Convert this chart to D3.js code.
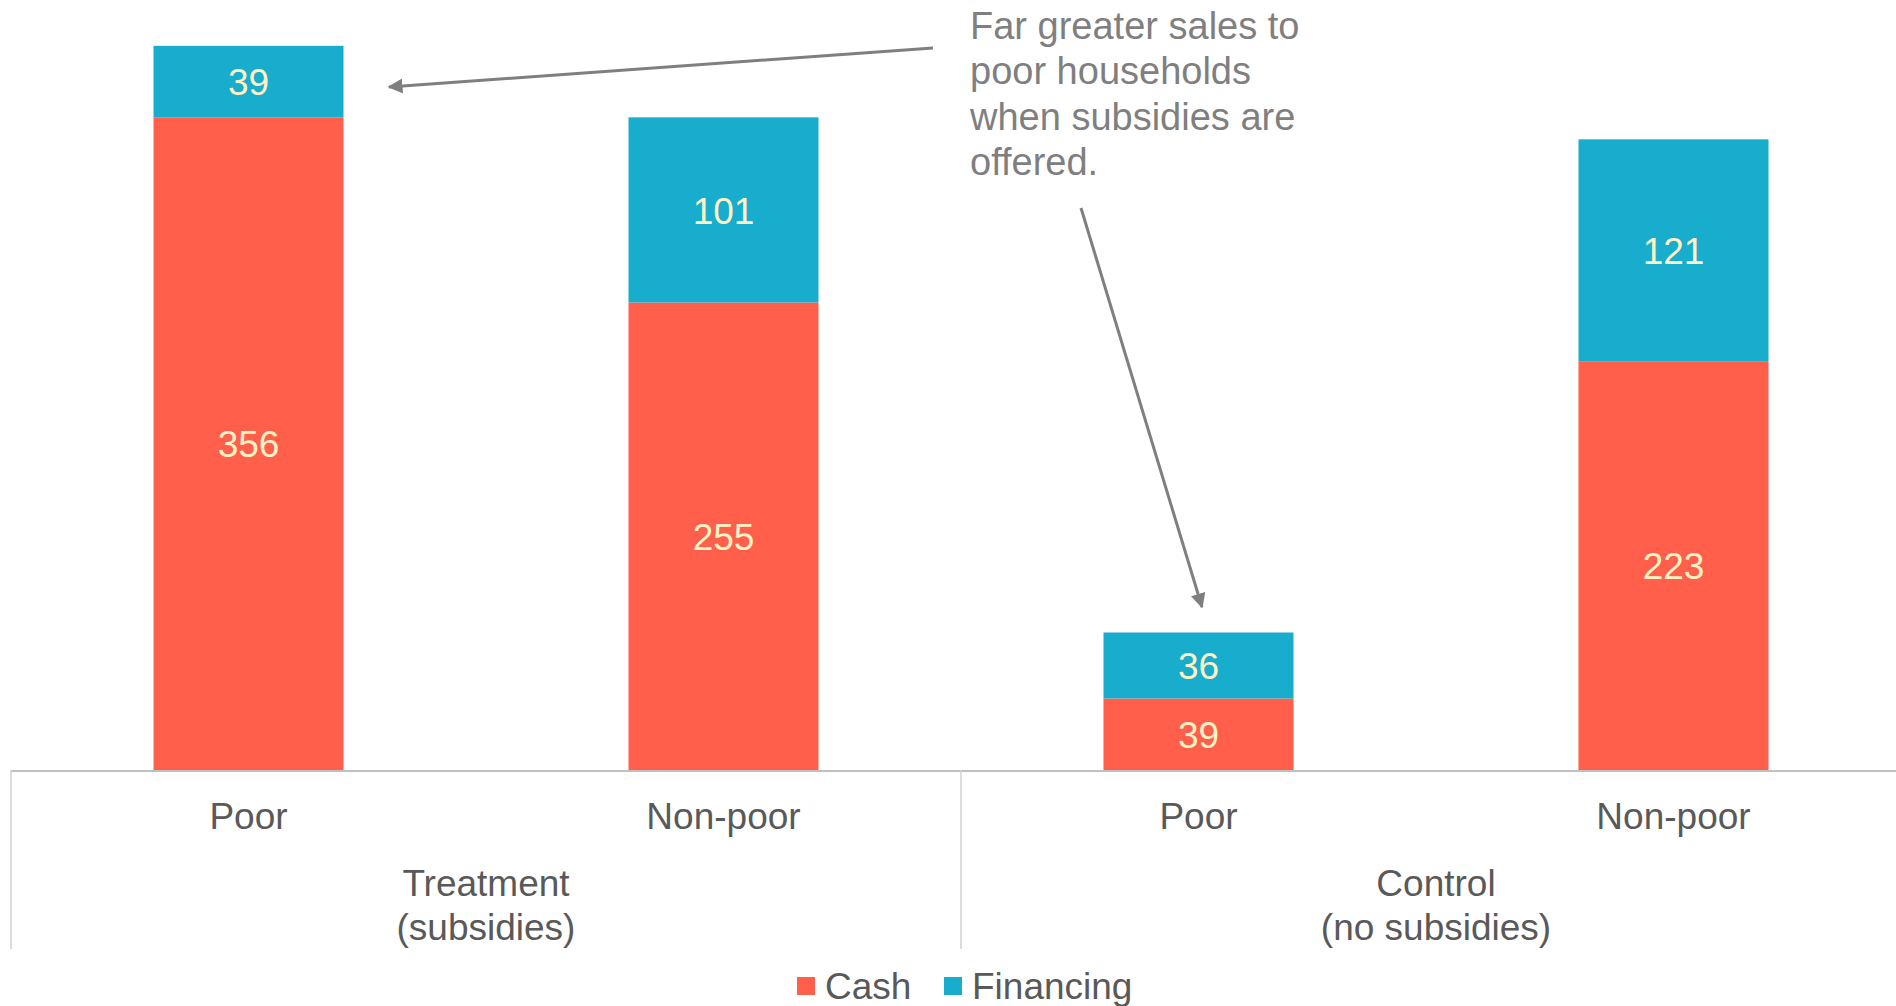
<!DOCTYPE html>
<html>
<head>
<meta charset="utf-8">
<script src="https://cdn.jsdelivr.net/npm/d3@7"></script>
<style>
  body { margin: 0; background: #fff; }
  svg { display: block; font-family: "Liberation Sans", Arial, sans-serif; }
</style>
</head>
<body>
<div id="chart"></div>
<script>
// ---- data ----
var categories = ["Poor", "Non-poor", "Poor", "Non-poor"];
var groups = [["Treatment", "(subsidies)"], ["Control", "(no subsidies)"]];
var cash = [356, 255, 39, 223];
var financing = [39, 101, 36, 121];
var seriesNames = ["Cash", "Financing"];
var noteLines = ["Far greater sales to", "poor households", "when subsidies are", "offered."];

// ---- layout ----
var width = 1896, height = 1006;
var baseY = 770, plotLeft = 11, plotRight = 1911;
var colors = ["#ff5f4b", "#18accd"];
var labelColor = "#fff3c6";
var textColor = "#595959";
var noteColor = "#7f7f7f";

var svg = d3.select("#chart").append("svg")
  .attr("width", width)
  .attr("height", height);

var x = d3.scaleBand()
  .domain(d3.range(categories.length))
  .range([plotLeft, plotRight])
  .paddingInner(0.6)
  .paddingOuter(0.3);

var y = d3.scaleLinear()
  .domain([0, 420])
  .range([baseY, 0]);

var rows = categories.map(function(c, i) {
  return {i: i, Cash: cash[i], Financing: financing[i]};
});
var stacked = d3.stack().keys(seriesNames)(rows);

// bars
var layer = svg.selectAll("g.layer")
  .data(stacked)
  .enter().append("g")
  .attr("class", "layer")
  .attr("fill", function(d, k) { return colors[k]; });

layer.selectAll("rect")
  .data(function(d) { return d; })
  .enter().append("rect")
  .attr("x", function(d) { return x(d.data.i); })
  .attr("y", function(d) { return y(d[1]); })
  .attr("width", x.bandwidth())
  .attr("height", function(d) { return y(d[0]) - y(d[1]); });

// value labels
layer.selectAll("text")
  .data(function(d) { return d; })
  .enter().append("text")
  .attr("x", function(d) { return x(d.data.i) + x.bandwidth() / 2; })
  .attr("y", function(d) { return (y(d[0]) + y(d[1])) / 2; })
  .attr("dy", "0.37em")
  .attr("text-anchor", "middle")
  .attr("font-size", "37px")
  .attr("fill", labelColor)
  .text(function(d) { return d[1] - d[0]; });

// axis line + group separators
svg.append("line")
  .attr("x1", plotLeft).attr("x2", width)
  .attr("y1", baseY + 1).attr("y2", baseY + 1)
  .attr("stroke", "#bfbfbf").attr("stroke-width", 2);

var step = x.step();
[0, 2].forEach(function(k) {
  var sx = x(k) - x.paddingOuter() * step;
  svg.append("line")
    .attr("x1", sx).attr("x2", sx)
    .attr("y1", baseY).attr("y2", 949)
    .attr("stroke", "#d0d0d0").attr("stroke-width", 1.5);
});

// category labels
svg.selectAll("text.cat")
  .data(categories)
  .enter().append("text")
  .attr("class", "cat")
  .attr("x", function(d, i) { return x(i) + x.bandwidth() / 2; })
  .attr("y", 829)
  .attr("text-anchor", "middle")
  .attr("font-size", "37px")
  .attr("fill", textColor)
  .text(function(d) { return d; });

// group labels
groups.forEach(function(g, k) {
  var cx = (x(2 * k) + x(2 * k + 1) + x.bandwidth()) / 2;
  g.forEach(function(line, j) {
    svg.append("text")
      .attr("x", cx)
      .attr("y", 896 + j * 44)
      .attr("text-anchor", "middle")
      .attr("font-size", "37px")
      .attr("fill", textColor)
      .text(line);
  });
});

// legend
var legend = svg.append("g").attr("transform", "translate(797,0)");
var legX = [0, 147];
seriesNames.forEach(function(name, k) {
  legend.append("rect")
    .attr("x", legX[k]).attr("y", 977)
    .attr("width", 18).attr("height", 18)
    .attr("fill", colors[k]);
  legend.append("text")
    .attr("x", legX[k] + 28).attr("y", 999)
    .attr("font-size", "37px")
    .attr("fill", textColor)
    .text(name);
});

// annotation
svg.append("defs").append("marker")
  .attr("id", "arrow")
  .attr("viewBox", "0 0 10 10")
  .attr("refX", 9).attr("refY", 5)
  .attr("markerWidth", 5).attr("markerHeight", 5)
  .attr("orient", "auto")
  .append("path")
  .attr("d", "M0,0 L10,5 L0,10 z")
  .attr("fill", noteColor);

var arrows = [
  [[933, 48], [389, 87]],
  [[1081, 208], [1202, 607]]
];
arrows.forEach(function(a) {
  svg.append("line")
    .attr("x1", a[0][0]).attr("y1", a[0][1])
    .attr("x2", a[1][0]).attr("y2", a[1][1])
    .attr("stroke", noteColor)
    .attr("stroke-width", 3)
    .attr("marker-end", "url(#arrow)");
});

svg.selectAll("text.note")
  .data(noteLines)
  .enter().append("text")
  .attr("class", "note")
  .attr("x", 970)
  .attr("y", function(d, i) { return 39 + i * 45.3; })
  .attr("font-size", "38px")
  .attr("fill", noteColor)
  .text(function(d) { return d; });
</script>
</body>
</html>
